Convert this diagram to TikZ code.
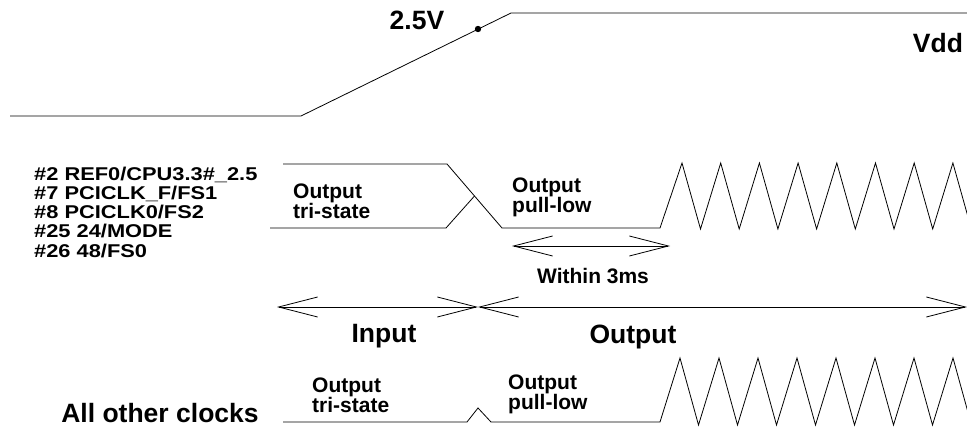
\documentclass[tikz,border=0pt]{standalone}
\usepackage{fontspec}
\setmainfont{Liberation Sans}
\newfontfamily\pinfont{Liberation Sans}[FakeStretch=1.18]
\usetikzlibrary{arrows.meta}
\usetikzlibrary{calc}

\begin{document}
\begin{tikzpicture}[x=1pt,y=-1pt,>/.tip={Straight Barb[length=39pt,width=20pt]},
	every node/.style={inner sep=0pt},
	big/.style={font=\bfseries\fontsize{26.5}{30}\selectfont},
	lbl/.style={font=\bfseries\fontsize{21}{20}\selectfont,align=left},
	pin/.style={font=\pinfont\bfseries\fontsize{18.5}{19}\selectfont},
	wave/.style={line width=0.8pt}]
\useasboundingbox (0,0) rectangle (967,428);
\clip (0,0) rectangle (967,428);

% supply ramp
\coordinate (v0) at (10,116);
\coordinate (v1) at (301,116);
\coordinate (v2) at (511,13);
\coordinate (v3) at (967,13);
\draw[wave] (v0) -- (v1) -- (v2) -- (v3);
\fill (478,29) coordinate (vth) circle (3.2pt);
\draw (vth)++(-61,1) node[big,anchor=base] (vlab) {2.5V};
\draw (938,53) node[big,anchor=base] (vdd) {Vdd};

% pin list
\foreach \k/\pinname in {0/{\#2 REF0/CPU3.3\#\_2.5},1/{\#7 PCICLK\_F/FS1},2/{\#8 PCICLK0/FS2},3/{\#25 24/MODE},4/{\#26 48/FS0}}
	\draw (34,180+19.3*\k) node[pin,anchor=base west] (p\k) {\pinname};

% latched pins
\coordinate (a0) at (283,164);
\coordinate (a1) at (447,164);
\coordinate (a2) at (502,228);
\coordinate (a3) at (660,228);
\coordinate (b0) at (270,228);
\coordinate (b1) at (446,228);
\draw[wave] (a0) -- (a1) -- (a2) -- (a3)
	\foreach \k in {0,...,7} { -- (682+38.7*\k,163) -- (700.5+38.7*\k,229) };
\draw[wave] (b0) -- (b1) -- ($(a1)!.5!(a2)$);
\draw (293,201) node[lbl,anchor=west] (tri1) {Output\\tri-state};
\draw (512,197.5) node[lbl,anchor=west] (pull1) {Output\\pull-low};

\coordinate (w0) at (512,246);
\coordinate (w1) at (670,246);
\draw[wave,<->] (w0) -- (w1);
\draw (593,276) node[lbl] (win) {Within 3ms};

% input / output
\coordinate (i0) at (277,307);
\coordinate (mid) at (478,307);
\coordinate (o1) at (967,307);
\draw[wave,<->] (i0) -- (mid);
\draw[wave,<->] (mid) -- (o1);
\draw (384,342) node[big,anchor=base] (inp) {Input};
\draw (633,343) node[big,anchor=base] (outp) {Output};

% other clocks
\coordinate (c0) at (283,422);
\coordinate (c1) at (467,422);
\coordinate (c2) at (478,408);
\coordinate (c3) at (491,422);
\coordinate (c4) at (660,422);
\draw[wave] (c0) -- (c1) -- (c2) -- (c3) -- (c4)
	\foreach \k in {0,...,7} { -- (680+39*\k,358) -- (698.5+39*\k,425) };
\draw (160,422) node[big,anchor=base] (allclk) {All other clocks};
\draw (312,395) node[lbl,anchor=west] (tri2) {Output\\tri-state};
\draw (508,394.5) node[lbl,anchor=west] (pull2) {Output\\pull-low};
\end{tikzpicture}
\end{document}
